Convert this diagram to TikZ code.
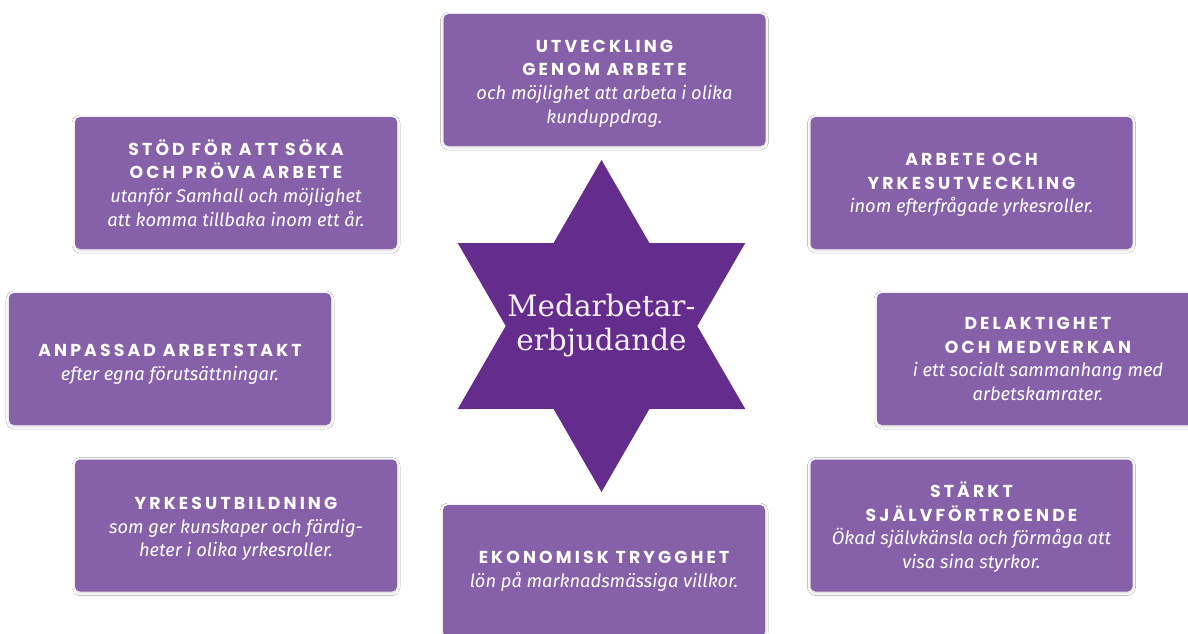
\documentclass[tikz,border=0pt]{standalone}
\usepackage{fontspec}
\usetikzlibrary{shadows.blur}
\newfontfamily\headfont{Poppins}[LetterSpace=18]
\newfontfamily\bodyfont{Fira Sans}
\newfontfamily\starfont{DejaVu Serif}
\definecolor{boxc}{HTML}{8660A8}
\definecolor{starc}{HTML}{632C8D}
\definecolor{startxt}{HTML}{F4EFF7}
\newcommand\hd[1]{{\headfont\bfseries\fontsize{17.3}{23.5}\selectfont #1}}
\newcommand\bd[1]{{\bodyfont\itshape #1}}
\tikzset{
  box/.style={rounded corners=5pt, fill=boxc, minimum width=322pt, minimum height=132pt,
    inner sep=0pt,
    blur shadow={shadow xshift=0pt, shadow yshift=-1pt, shadow blur radius=3pt, shadow opacity=18}},
  boxtext/.style={align=center, text=white, inner sep=0pt,
    font=\bodyfont\fontsize{18.3}{23.7}\selectfont},
  startext/.style={text=startxt, align=center, font=\starfont\fontsize{29.5}{34}\selectfont}
}
\begin{document}
\begin{tikzpicture}[x=1pt,y=-1pt]
\useasboundingbox (0,0) rectangle (1188,634);
\clip (0,0) rectangle (1188,634);
\fill[white] (0,0) rectangle (1188,634);
% star
\coordinate (sc) at (601.5,326);
\fill[starc] ($(sc)+(90:166)$) \foreach \k in {0,...,5} { -- ($(sc)+({60*\k+120}:95.8)$) -- ($(sc)+({60*\k+150}:166)$) } -- cycle;
\node[startext] (center) at (sc) {Medarbetar-\\erbjudande};
% boxes
\node[box] (top) at (604.5,80) {};
\node[boxtext] (topt) at (604.5,83.5) {\hd{UTVECKLING}\\\hd{GENOM ARBETE}\\\bd{och möjlighet att arbeta i olika}\\\bd{kunduppdrag.}};
\node[box] (tl) at (236,183) {};
\node[boxtext] (tlt) at (236,183) {\hd{STÖD FÖR ATT SÖKA}\\\hd{OCH PRÖVA ARBETE}\\\bd{utanför Samhall och möjlighet}\\\bd{att komma tillbaka inom ett år.}};
\node[box] (tr) at (971.5,183) {};
\node[boxtext] (trt) at (971.5,185) {\hd{ARBETE OCH}\\\hd{YRKESUTVECKLING}\\\bd{inom efterfrågade yrkesroller.}};
\node[box] (lm) at (170,359) {};
\node[boxtext] (lmt) at (170,364) {\hd{ANPASSAD ARBETSTAKT}\\\bd{efter egna förutsättningar.}};
\node[box] (rm) at (1038,359) {};
\node[boxtext] (rmt) at (1038,359) {\hd{DELAKTIGHET}\\\hd{OCH MEDVERKAN}\\\bd{i ett socialt sammanhang med}\\\bd{arbetskamrater.}};
\node[box] (bl) at (236,525.5) {};
\node[boxtext] (blt) at (236,529) {\hd{YRKESUTBILDNING}\\\bd{som ger kunskaper och färdig-}\\\bd{heter i olika yrkesroller.}};
\node[box] (br) at (971.5,525.5) {};
\node[boxtext] (brt) at (971.5,527) {\hd{STÄRKT}\\\hd{SJÄLVFÖRTROENDE}\\\bd{Ökad självkänsla och förmåga att}\\\bd{visa sina styrkor.}};
\node[box] (bot) at (604,571) {};
\node[boxtext] (bott) at (604,571) {\hd{EKONOMISK TRYGGHET}\\\bd{lön på marknadsmässiga villkor.}};
\end{tikzpicture}
\end{document}
